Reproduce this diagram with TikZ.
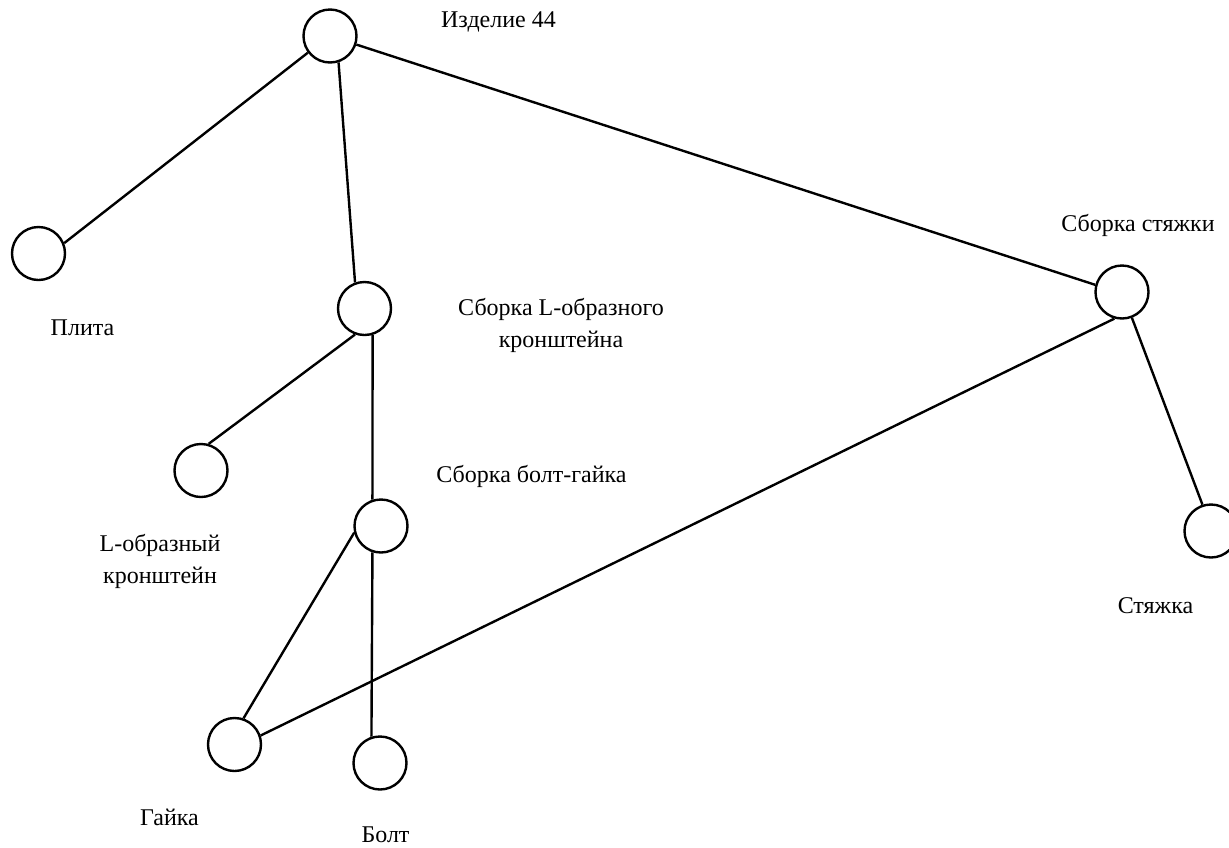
\documentclass[tikz,border=0pt]{standalone}
\usepackage{fontspec}
\setmainfont{Liberation Serif}

\begin{document}
\begin{tikzpicture}[x=1pt,y=-1pt,
  part/.style={circle,draw,line width=2.4pt,minimum size=53pt,inner sep=0pt},
  lbl/.style={anchor=base,align=center,inner sep=0pt,font=\fontsize{24}{32}\selectfont},
  edge/.style={line width=2.4pt}]
\useasboundingbox (0,0) rectangle (1229,847);
\clip (0,0) rectangle (1229,847);
\node[part] (izd)    at (330,36)  {};
\node[part] (plita)  at (38.5,253.5) {};
\node[part] (sbl)    at (364.5,308.5) {};
\node[part] (lkr)    at (201,470.5) {};
\node[part] (sbbg)   at (381,526) {};
\node[part] (gajka)  at (234.5,744.5) {};
\node[part] (bolt)   at (380,763) {};
\node[part] (sbst)   at (1122,292) {};
\node[part] (styazh) at (1211,531) {};

\node[lbl] (izdlbl)    at (498.5,27) {Изделие 44};
\node[lbl] (plitalbl)  at (82.5,335) {Плита};
\node[lbl] (sbllbl)    at (561,347) {Сборка L-образного\\кронштейна};
\node[lbl] (lkrlbl)    at (160,583) {L-образный\\кронштейн};
\node[lbl] (sbbglbl)   at (531.5,482) {Сборка болт-гайка};
\node[lbl] (gajkalbl)  at (169.5,825) {Гайка};
\node[lbl] (boltlbl)   at (385.5,842) {Болт};
\node[lbl] (sbstlbl)   at (1138,231) {Сборка стяжки};
\node[lbl] (styazhlbl) at (1155.5,613) {Стяжка};

\draw[edge] (izd.217) -- (plita.22);
\draw[edge] (izd.288) -- (sbl.110);
\draw[edge] (izd.-18) -- (sbst.165);
\draw[edge] (sbl.250) -- (lkr.74);
\draw[edge] (sbl.287) -- (sbbg.108);
\draw[edge] (sbbg.194) -- (gajka.71);
\draw[edge] (sbbg.252) -- (bolt.108);
\draw[edge] (sbst.254) -- (gajka.19);
\draw[edge] (sbst.291) -- (styazh.108);
\end{tikzpicture}
\end{document}
